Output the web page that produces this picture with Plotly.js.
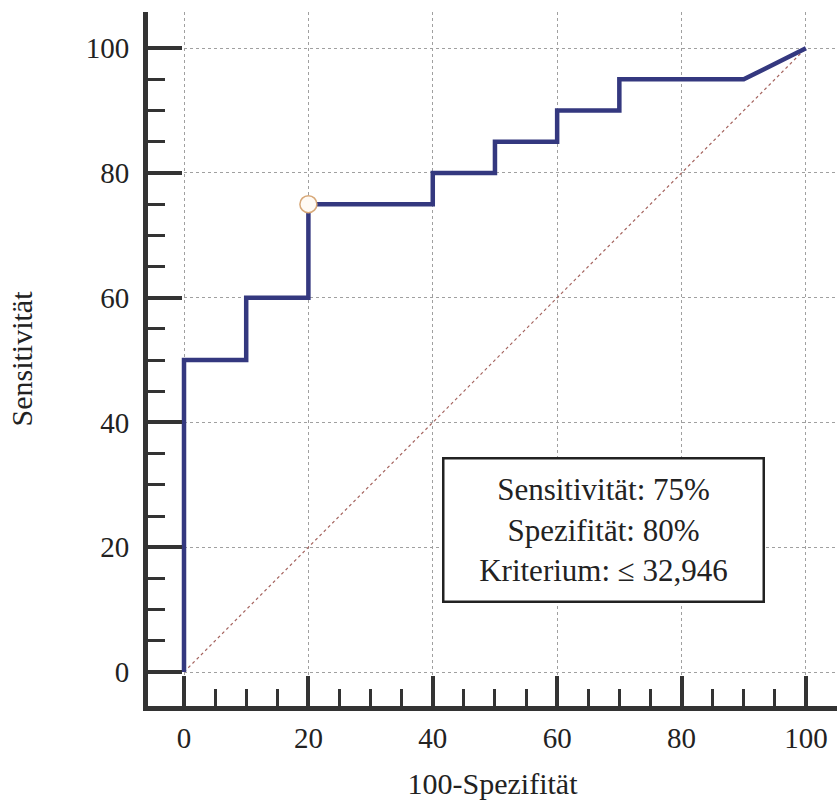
<!DOCTYPE html>
<html>
<head>
<meta charset="utf-8">
<script src="https://cdn.plot.ly/plotly-3.0.1.min.js"></script>
<style>html,body{margin:0;padding:0;background:#fff;}#chart{width:837px;height:805px;}</style>
</head>
<body>
<div id="chart"></div>
<script>
// ROC curve points (100-Spezifität, Sensitivität)
const rocX = [0, 0, 10, 10, 20, 20, 40, 40, 50, 50, 60, 60, 70, 70, 90, 100];
const rocY = [0, 50, 50, 60, 60, 75, 75, 80, 80, 85, 85, 90, 90, 95, 95, 100];
// reference diagonal
const diagX = [0, 100];
const diagY = [0, 100];
// optimal criterion point
const optX = [20];
const optY = [75];
// tick labels
const majorTicks = [0, 20, 40, 60, 80, 100];
const majorLabels = ['0', '20', '40', '60', '80', '100'];
const minorTicks = [5, 10, 15, 25, 30, 35, 45, 50, 55, 65, 70, 75, 85, 90, 95];
const boxLines = ['Sensitivität: 75%', 'Spezifität: 80%', 'Kriterium: ≤ 32,946'];

const FONT = 'Liberation Serif, Times New Roman, serif';

const traces = [
  {x: diagX, y: diagY, mode: 'lines', line: {color: 'rgb(165,100,95)', width: 1.2, dash: 'dot'}, hoverinfo: 'skip', showlegend: false},
  {x: rocX, y: rocY, mode: 'lines', line: {color: '#34387f', width: 4.5}, showlegend: false},
  {x: optX, y: optY, mode: 'markers', marker: {symbol: 'circle', size: 17, color: '#fffaf4', line: {color: '#d7a878', width: 1.5}}, showlegend: false}
];

function axisBase(tlen, mlen) {
  return {
    showline: true, linecolor: '#333', linewidth: 5,
    ticks: 'inside', ticklen: tlen, tickwidth: 4, tickcolor: '#333',
    tickmode: 'array', tickvals: majorTicks, ticktext: majorLabels,
    showgrid: true, gridcolor: '#a0a0a0', gridwidth: 1, griddash: 'dot',
    zeroline: false,
    minor: {tickmode: 'array', tickvals: minorTicks, ticks: 'inside', ticklen: mlen, tickwidth: 3, tickcolor: '#333', showgrid: false},
    tickfont: {family: FONT, size: 29, color: '#222'}
  };
}

const xaxis = Object.assign(axisBase(30, 17), {
  range: [-5.79, 105.0],
  ticklabelstandoff: 2,
  title: {text: '100-Spezifität', font: {family: FONT, size: 30, color: '#222'}, standoff: 22}
});
const yaxis = Object.assign(axisBase(34, 17), {
  range: [-5.45, 105.8],
  ticklabelstandoff: 8,
  title: {text: 'Sensitivität', font: {family: FONT, size: 30, color: '#222'}, standoff: 46}
});

const layout = {
  width: 837, height: 805,
  margin: {l: 148, r: 0, t: 12, b: 99, autoexpand: false},
  paper_bgcolor: '#fff', plot_bgcolor: '#fff',
  xaxis: xaxis, yaxis: yaxis,
  showlegend: false,
  annotations: [{
    x: 67.5, y: 22.8, xref: 'x', yref: 'y', showarrow: false,
    text: boxLines.join('<br>'),
    font: {family: FONT, size: 31, color: '#222'},
    align: 'center',
    bgcolor: '#fff', bordercolor: '#222', borderwidth: 2.5, borderpad: 2,
    width: 314, height: 137
  }]
};

Plotly.newPlot('chart', traces, layout, {staticPlot: true, displayModeBar: false});
</script>
</body>
</html>
